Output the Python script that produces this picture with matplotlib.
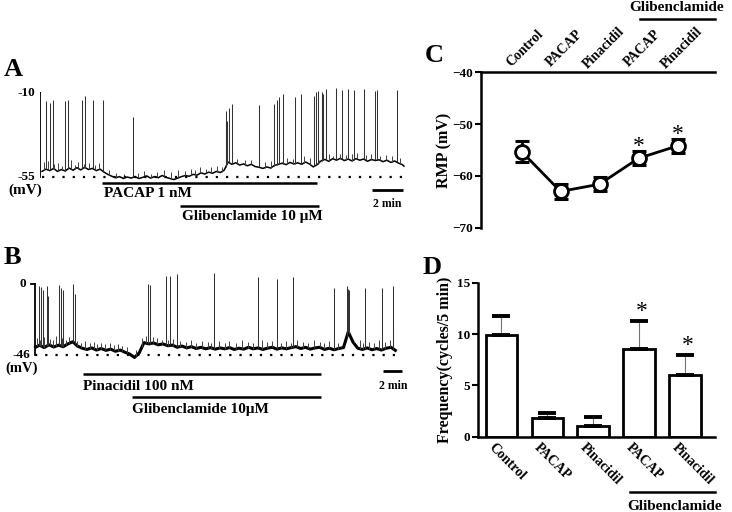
import numpy as np
import matplotlib
matplotlib.use('Agg')
import matplotlib.pyplot as plt

plt.rcParams['font.family'] = ['Liberation Serif', 'DejaVu Serif']
plt.rcParams['font.weight'] = 'bold'
plt.rcParams['axes.labelweight'] = 'bold'

# ---------------- data ----------------
# A: PACAP then glibenclamide (time in min, potential in mV), baseline read every 0.25 min
a_base_t = list(np.arange(0, 23.3, 0.25)) + [23.35]
a_base_v = [-52.0, -50.8, -51.6, -50.4, -52.0, -51.0, -51.8, -50.2,
            -51.4, -50.0, -51.2, -49.8, -51.0, -50.4, -51.6, -50.8,
            -52.4, -53.6, -54.6, -55.4, -54.8, -55.8, -55.0, -55.6,
            -54.8, -55.8, -55.2, -54.4, -55.6, -54.8, -55.4, -54.2,
            -55.2, -55.8, -56.4, -55.6, -54.8, -54.2, -54.6, -53.6,
            -54.0, -52.8, -53.4, -52.4, -53.0, -52.0, -52.6, -51.4,
            -47.0, -48.2, -47.4, -48.6, -48.0, -49.0, -48.2, -49.4,
            -49.8, -50.4, -49.6, -50.2, -48.8, -48.2, -47.6, -48.4,
            -47.2, -48.0, -47.4, -48.2, -47.0, -48.0, -49.6, -48.4,
            -46.4, -45.6, -46.6, -45.2, -46.0, -45.0, -46.2, -45.4,
            -46.4, -45.2, -46.0, -45.4, -46.6, -45.6, -46.2, -45.8,
            -46.8, -46.0, -47.2, -46.4, -47.6, -48.4, -49.2]
a_spike_t = [0.26, 0.52, 0.69, 1.50, 1.66, 2.56, 2.80, 3.31, 3.96, 5.87, 11.86, 11.90, 11.95,
             12.08, 12.28, 14.00, 14.99, 15.14, 15.31, 15.57, 16.32, 16.69, 17.55, 17.66, 17.79,
             18.06, 18.15, 18.32, 18.95, 19.37, 19.74, 20.13, 20.75, 21.48, 21.63, 22.92]
a_spike_v = [-14.5, -15.4, -14.0, -14.5, -14.0, -13.6, -11.8, -14.0, -13.6, -22.6, -27.0, -19.6,
             -25.0, -17.8, -16.0, -16.5, -16.0, -13.6, -12.3, -10.5, -12.3, -10.5, -11.4, -9.6,
             -8.7, -9.6, -10.5, -7.8, -7.5, -8.2, -7.8, -8.2, -7.8, -8.7, -8.2, -8.2]
# small events (time, peak)
a_small = [(0.15, -47), (0.4, -46.5), (0.8, -48), (1.05, -47.5), (1.3, -49), (1.85, -46),
           (2.1, -48.5), (2.35, -47), (2.7, -48), (3.05, -47.5), (3.45, -48.5), (3.7, -47.5),
           (4.3, -51.5), (4.8, -53), (5.3, -53.5), (6.2, -53), (6.6, -52), (7.0, -53.5),
           (7.4, -52.5), (7.9, -51), (8.3, -52.5), (8.75, -51.5), (9.2, -52), (9.6, -50.5),
           (9.9, -51), (10.2, -49.5), (10.6, -50.5), (10.9, -49.8), (11.3, -49), (11.6, -49.5),
           (12.6, -45.5), (13.1, -46), (13.5, -45.8), (14.4, -47), (14.8, -46.5), (15.8, -45),
           (16.2, -45.5), (16.9, -44), (17.3, -45), (17.9, -46), (18.5, -42.5), (18.8, -43.5),
           (19.2, -42.5), (19.6, -43), (20.0, -42.8), (20.3, -42), (20.9, -43), (21.2, -42.5),
           (21.8, -43.5), (22.2, -43), (22.6, -44), (23.1, -45)]
a_drugs = [('PACAP 1 nM', 3.87, 17.74), ('Glibenclamide 10 μM', 8.9, 17.87)]

# B: pinacidil then glibenclamide, baseline read every 0.5 min
b_base_t = [0.1] + list(np.arange(0.5, 37.6, 0.5)) + [37.96]
b_base_v = [-41.0,
            -39.6, -41.2, -39.4, -40.8, -39.6, -40.6, -38.8, -37.4, -40.2,
            -41.6, -42.4, -41.4, -42.8, -41.8, -43.0, -42.2, -43.6, -42.8, -44.2,
            -45.4, -47.6, -44.6, -38.0, -38.8, -38.2, -39.4, -38.8, -40.0, -39.6,
            -41.0, -40.2, -41.4, -40.6, -41.8, -41.0, -42.0, -41.2, -42.2, -41.4,
            -42.0, -41.2, -42.4, -41.6, -42.2, -41.0, -42.0, -41.4, -42.4, -41.6,
            -41.0, -42.2, -41.4, -42.0, -41.2, -40.6, -41.8, -41.0, -42.2, -41.4,
            -41.0, -42.4, -41.6, -42.6, -41.8, -41.2, -31.0, -37.6, -41.6, -42.4,
            -41.4, -42.6, -41.8, -42.8, -41.6, -41.0,
            -43.0]
b_spike_t = [0.49, 0.70, 0.84, 1.26, 1.43, 2.52, 2.73, 3.01, 4.07, 4.21, 11.93, 12.14, 13.79,
             14.28, 14.94, 18.91, 23.54, 25.54, 27.15, 31.54, 32.84, 32.98, 33.12, 34.77, 36.59,
             37.68, 37.75]
b_spike_v = [-1.1, -1.9, -3.6, -1.1, -7.9, -0.4, -2.6, -4.1, 0.0, -6.8, 0.2, -0.4, 4.9, 4.9, 6.6,
             7.1, 4.5, 3.4, 4.5, -2.6, -1.5, -3.2, -3.6, -2.6, -2.6, -1.1, -28.0]
b_small = [(0.25, -35), (0.6, -36), (1.0, -34.5), (1.6, -35.5), (1.9, -36.5), (2.2, -34),
           (2.9, -35), (3.3, -36), (3.6, -34.5), (4.5, -37), (4.9, -38), (5.3, -37),
           (5.8, -38.5), (6.2, -37.5), (6.6, -38.8), (7.0, -38), (7.4, -39), (7.9, -38.5),
           (8.3, -39.5), (8.8, -39), (9.2, -40), (9.7, -41), (10.7, -43), (11.3, -35),
           (11.7, -33.5), (12.5, -34.5), (12.9, -35), (13.4, -36), (14.0, -36.5), (14.6, -35.5),
           (15.3, -37), (15.9, -37.5), (16.4, -36.5), (17.0, -38), (17.6, -37), (18.2, -37.5),
           (18.6, -38), (19.4, -36.8), (20.0, -38), (20.5, -37), (21.2, -38), (21.8, -36.5),
           (22.4, -37.5), (23.0, -38), (23.9, -36.5), (24.5, -37.5), (25.0, -37), (25.9, -38),
           (26.4, -37), (27.0, -38), (27.6, -36.5), (28.2, -37.5), (28.8, -38), (29.4, -36.5),
           (30.0, -37.5), (30.5, -38), (31.0, -37), (31.9, -38), (33.6, -37), (34.2, -36.5),
           (34.6, -38), (35.2, -37.5), (35.7, -38), (36.2, -36.5), (36.9, -37.5), (37.4, -36)]
b_drugs = [('Pinacidil 100 nM', 5.1, 30.1), ('Glibenclamide 10μM', 10.25, 30.1)]

# C and D summary data
groups = ['Control', 'PACAP', 'Pinacidil', 'PACAP', 'Pinacidil']
rmp_mean = [-55.3, -63.0, -61.6, -56.6, -54.2]
rmp_sem = [2.0, 1.5, 1.4, 1.35, 1.3]
freq_mean = [9.9, 1.8, 1.0, 8.5, 6.0]
freq_sem = [1.9, 0.5, 0.95, 2.75, 1.95]
significant = [False, False, False, True, True]

W, H = 732, 512
fig = plt.figure(figsize=(W / 100, H / 100), dpi=100)


def px_axes(x0, y0, x1, y1):
    return fig.add_axes([x0 / W, 1 - y1 / H, (x1 - x0) / W, (y1 - y0) / H])


def trace_panel(ax, bt, bv, st, sv, small, lw, ref, top, bar_t, tick_len):
    ax.plot(bt, bv, color='black', lw=lw, solid_joinstyle='round')
    small_t = [p[0] for p in small]
    small_v = [p[1] for p in small]
    ax.vlines(small_t, np.interp(small_t, bt, bv), small_v, color='0.25', lw=0.7)
    ax.vlines(st, np.interp(st, bt, bv), sv, color='0.2', lw=0.75)
    ax.plot([0, bt[-1] + 0.1], [ref, ref], color='black', lw=1.6, linestyle=(0, (1, 3.6)))
    ax.plot([bar_t, bar_t], [ref, top], color='black', lw=1.3)
    ax.plot([bar_t - tick_len, bar_t], [top, top], color='black', lw=1.3)
    ax.axis('off')


# ---------------- panel A ----------------
axA = px_axes(40, 80, 410, 230)
axA.set_xlim(-0.129, 23.74)
axA.set_ylim(-83.4, -3.04)
trace_panel(axA, a_base_t, a_base_v, a_spike_t, a_spike_v, a_small, 1.1, -55, -10, -0.13, 0.25)
for (name, t0, t1), y, ty in zip(a_drugs, [-58.2, -70.4], [-63.6, -75.9]):
    axA.plot([t0, t1], [y, y], color='black', lw=1.8, solid_capstyle='butt')
    axA.text(t0 + 0.1, ty, name, fontsize=11, ha='left', va='center')
axA.plot([21.29, 23.29], [-61.8, -61.8], color='black', lw=2, solid_capstyle='butt')
axA.text(22.29, -69.5, '2 min', fontsize=8.5, ha='center', va='center')
axA.text(-0.45, -10, '-10', fontsize=9.5, ha='right', va='center')
axA.text(-0.45, -55, '-55', fontsize=9.5, ha='right', va='center')
axA.text(-1.1, -62.2, '(mV)', fontsize=11, ha='center', va='center')

# ---------------- panel B ----------------
axB = px_axes(30, 270, 410, 420)
axB.set_xlim(-0.495, 39.5)
axB.set_ylim(-88.1, 9.07)
trace_panel(axB, b_base_t, b_base_v, b_spike_t, b_spike_v, b_small, 2.2, -46, 0, 0.0, 0.4)
for (name, t0, t1), y, ty in zip(b_drugs, [-58.3, -73.0], [-66.2, -81.1]):
    axB.plot([t0, t1], [y, y], color='black', lw=1.8, solid_capstyle='butt')
    axB.text(t0, ty, name, fontsize=11, ha='left', va='center')
axB.plot([36.7, 38.7], [-56.4, -56.4], color='black', lw=2, solid_capstyle='butt')
axB.text(37.7, -66.2, '2 min', fontsize=8.5, ha='center', va='center')
axB.text(-0.9, 0, '0', fontsize=9.5, ha='right', va='center')
axB.text(-0.5, -46, '-46', fontsize=9.5, ha='right', va='center')
axB.text(-1.35, -54.8, '(mV)', fontsize=10.5, ha='center', va='center')

# ---------------- panel C ----------------
axC = px_axes(481, 72.3, 715, 227.7)
x = np.arange(len(groups))
axC.errorbar(x, rmp_mean, yerr=rmp_sem, fmt='-', color='black', lw=2, elinewidth=2,
             capsize=5, capthick=2.2, zorder=2)
axC.plot(x, rmp_mean, 'o', ms=10, mfc='white', mec='black', mew=2, zorder=3)
for i, s in enumerate(significant):
    if s:
        axC.text(i, rmp_mean[i] + rmp_sem[i] + 0.9, '*', fontsize=17, ha='center', va='center',
                 fontweight='normal')
axC.set_xlim(-1.04, 4.96)
axC.set_ylim(-70, -40)
axC.set_yticks([-70, -60, -50, -40])
axC.set_xticks([])
for side in ['right', 'bottom']:
    axC.spines[side].set_visible(False)
axC.spines['left'].set_linewidth(1.8)
axC.spines['top'].set_linewidth(1.8)
axC.tick_params(axis='y', direction='out', length=4, width=1.5, labelsize=9.5, pad=2)
for lab in axC.get_yticklabels():
    lab.set_fontweight('bold')
axC.set_ylabel('RMP (mV)', fontsize=11.5, labelpad=0)
tr = axC.get_xaxis_transform()
for i, g in enumerate(groups):
    axC.text(i + 0.1, 1.155, g, transform=tr, rotation=45, fontsize=10, ha='center', va='center')
axC.plot([3.03, 4.96], [1.343, 1.343], transform=tr, color='black', lw=1.8, clip_on=False)
axC.text(3.97, 1.414, 'Glibenclamide', transform=tr, fontsize=11, ha='center', va='center')

# ---------------- panel D ----------------
axD = px_axes(478.3, 282.7, 715, 436.7)
axD.bar(x, freq_mean, width=0.69, color='white', edgecolor='black', linewidth=2, zorder=2)
eb = axD.errorbar(x, freq_mean, yerr=[[0] * len(x), freq_sem], fmt='none', ecolor='black',
                  elinewidth=0.8, capsize=6.5, capthick=2.8, zorder=3)
eb[2][0].set_color('0.45')
for i, s in enumerate(significant):
    if s:
        axD.text(i + 0.05, freq_mean[i] + freq_sem[i] + 0.9, '*', fontsize=17, ha='center',
                 va='center', fontweight='normal')
axD.set_xlim(-0.505, 4.65)
axD.set_ylim(0, 15)
axD.set_yticks([0, 5, 10, 15])
axD.set_xticks([])
for side in ['right', 'top']:
    axD.spines[side].set_visible(False)
axD.spines['left'].set_linewidth(1.8)
axD.spines['bottom'].set_linewidth(1.8)
axD.tick_params(axis='y', direction='out', length=4, width=1.5, labelsize=9.5, pad=2)
for lab in axD.get_yticklabels():
    lab.set_fontweight('bold')
axD.set_ylabel('Frequency(cycles/5 min)', fontsize=11.5, labelpad=3)
trD = axD.get_xaxis_transform()
for i, g in enumerate(groups):
    axD.text(i - 0.14, -0.03, g, transform=trD, rotation=-45, rotation_mode='anchor',
             fontsize=10, ha='left', va='top')
axD.plot([2.8, 4.65], [-0.357, -0.357], transform=trD, color='black', lw=1.8, clip_on=False)
axD.text(3.78, -0.455, 'Glibenclamide', transform=trD, fontsize=11, ha='center', va='center')

# panel letters
for letter, px, py in [('A', 13, 70), ('B', 12, 258), ('C', 434, 55), ('D', 432, 268)]:
    fig.text(px / W, 1 - py / H, letter, fontsize=19, ha='center', va='center')

fig.savefig('out.png', dpi=100)
